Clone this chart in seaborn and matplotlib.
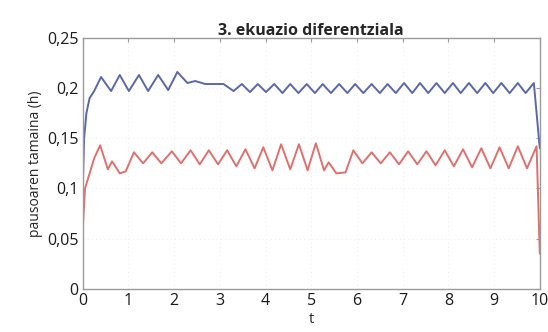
import matplotlib
matplotlib.use("Agg")
import matplotlib.pyplot as plt
import seaborn as sns
import pandas as pd
from matplotlib.ticker import FuncFormatter

# ---- data ----
blue_t = [0.00, 0.03, 0.08, 0.15, 0.25, 0.40, 0.62, 0.81, 1.01, 1.23, 1.43, 1.65, 1.87,
          2.07, 2.29, 2.46, 2.68, 3.08,
          3.30, 3.48, 3.66, 3.83, 4.01, 4.19, 4.37, 4.54, 4.72, 4.90, 5.08, 5.25, 5.43,
          5.61, 5.79, 5.96, 6.14, 6.32, 6.50, 6.67, 6.85, 7.03, 7.21, 7.38, 7.56, 7.74,
          7.92, 8.10, 8.27, 8.45, 8.63, 8.81, 8.98, 9.16, 9.34, 9.52, 9.69, 9.87, 10.00]
blue_h = [0.100, 0.150, 0.175, 0.190, 0.197, 0.211, 0.197, 0.213, 0.197, 0.213, 0.197, 0.213, 0.198,
          0.216, 0.205, 0.207, 0.204, 0.204,
          0.197, 0.204, 0.196, 0.204, 0.196, 0.204, 0.195, 0.204, 0.195, 0.204, 0.195, 0.204, 0.195,
          0.204, 0.195, 0.204, 0.195, 0.204, 0.195, 0.204, 0.195, 0.205, 0.195, 0.205, 0.195, 0.205,
          0.195, 0.205, 0.195, 0.205, 0.195, 0.205, 0.195, 0.205, 0.195, 0.205, 0.195, 0.205, 0.140]

red_t = [0.00, 0.05, 0.15, 0.25, 0.38, 0.55, 0.64, 0.81, 0.94, 1.12, 1.32, 1.52, 1.72, 1.95,
         2.15, 2.36, 2.56, 2.76, 2.96, 3.16, 3.36, 3.56, 3.76, 3.95, 4.15, 4.34, 4.54, 4.73,
         4.92, 5.10, 5.28, 5.38, 5.55, 5.75, 5.92, 6.12, 6.32, 6.52, 6.72, 6.92, 7.12, 7.32,
         7.52, 7.72, 7.92, 8.12, 8.32, 8.52, 8.72, 8.92, 9.12, 9.32, 9.52, 9.72, 9.93, 10.00]
red_h = [0.060, 0.100, 0.115, 0.130, 0.143, 0.119, 0.127, 0.115, 0.117, 0.136, 0.125, 0.136, 0.125, 0.137,
         0.125, 0.138, 0.124, 0.138, 0.124, 0.138, 0.122, 0.139, 0.120, 0.141, 0.118, 0.144, 0.119, 0.144,
         0.118, 0.145, 0.118, 0.126, 0.115, 0.116, 0.138, 0.125, 0.136, 0.125, 0.136, 0.124, 0.137, 0.124,
         0.137, 0.123, 0.138, 0.122, 0.139, 0.121, 0.140, 0.120, 0.141, 0.120, 0.142, 0.120, 0.142, 0.035]

x_ticks = [0, 1, 2, 3, 4, 5, 6, 7, 8, 9, 10]
y_ticks = [0, 0.05, 0.10, 0.15, 0.20, 0.25]

title = "3. ekuazio diferentziala"
xlabel = "t"
ylabel = "pausoaren tamaina (h)"

blue_df = pd.DataFrame({"t": blue_t, "h": blue_h})
red_df = pd.DataFrame({"t": red_t, "h": red_h})

sns.set_style("white")
plt.rcParams['font.family'] = ['Open Sans', 'DejaVu Sans']

fig = plt.figure(figsize=(5.48, 3.32), dpi=100)
ax = fig.add_axes([0.151, 0.130, 0.834, 0.756])

sns.lineplot(data=blue_df, x="t", y="h", ax=ax, color="#5b68a8", linewidth=1.4, estimator=None, sort=False)
sns.lineplot(data=red_df, x="t", y="h", ax=ax, color="#e0706e", linewidth=1.4, estimator=None, sort=False)

ax.set_xlim(0, 10)
ax.set_ylim(0, 0.25)
ax.set_xticks(x_ticks)
ax.set_yticks(y_ticks)

def fmt(v, pos):
    if abs(v) < 1e-9:
        return "0"
    s = ("%.2f" % v).rstrip("0").rstrip(".")
    return s.replace(".", ",")

ax.yaxis.set_major_formatter(FuncFormatter(fmt))
ax.tick_params(direction="in", length=3, width=0.8, colors="#999999", labelcolor="#1a1a1a",
               labelsize=11.5, top=True, right=True, pad=3)
for s in ax.spines.values():
    s.set_color("#9a9a9a")
    s.set_linewidth(1.0)

ax.grid(True, linestyle=(0, (1, 4)), color="#e6e6e6", linewidth=0.6)

ax.set_title(title, fontsize=11.5, fontweight="bold", pad=2)
ax.set_xlabel(xlabel, fontsize=10.5, labelpad=2)
ax.set_ylabel(ylabel, fontsize=10, labelpad=3)

fig.savefig("out.png", dpi=100)
